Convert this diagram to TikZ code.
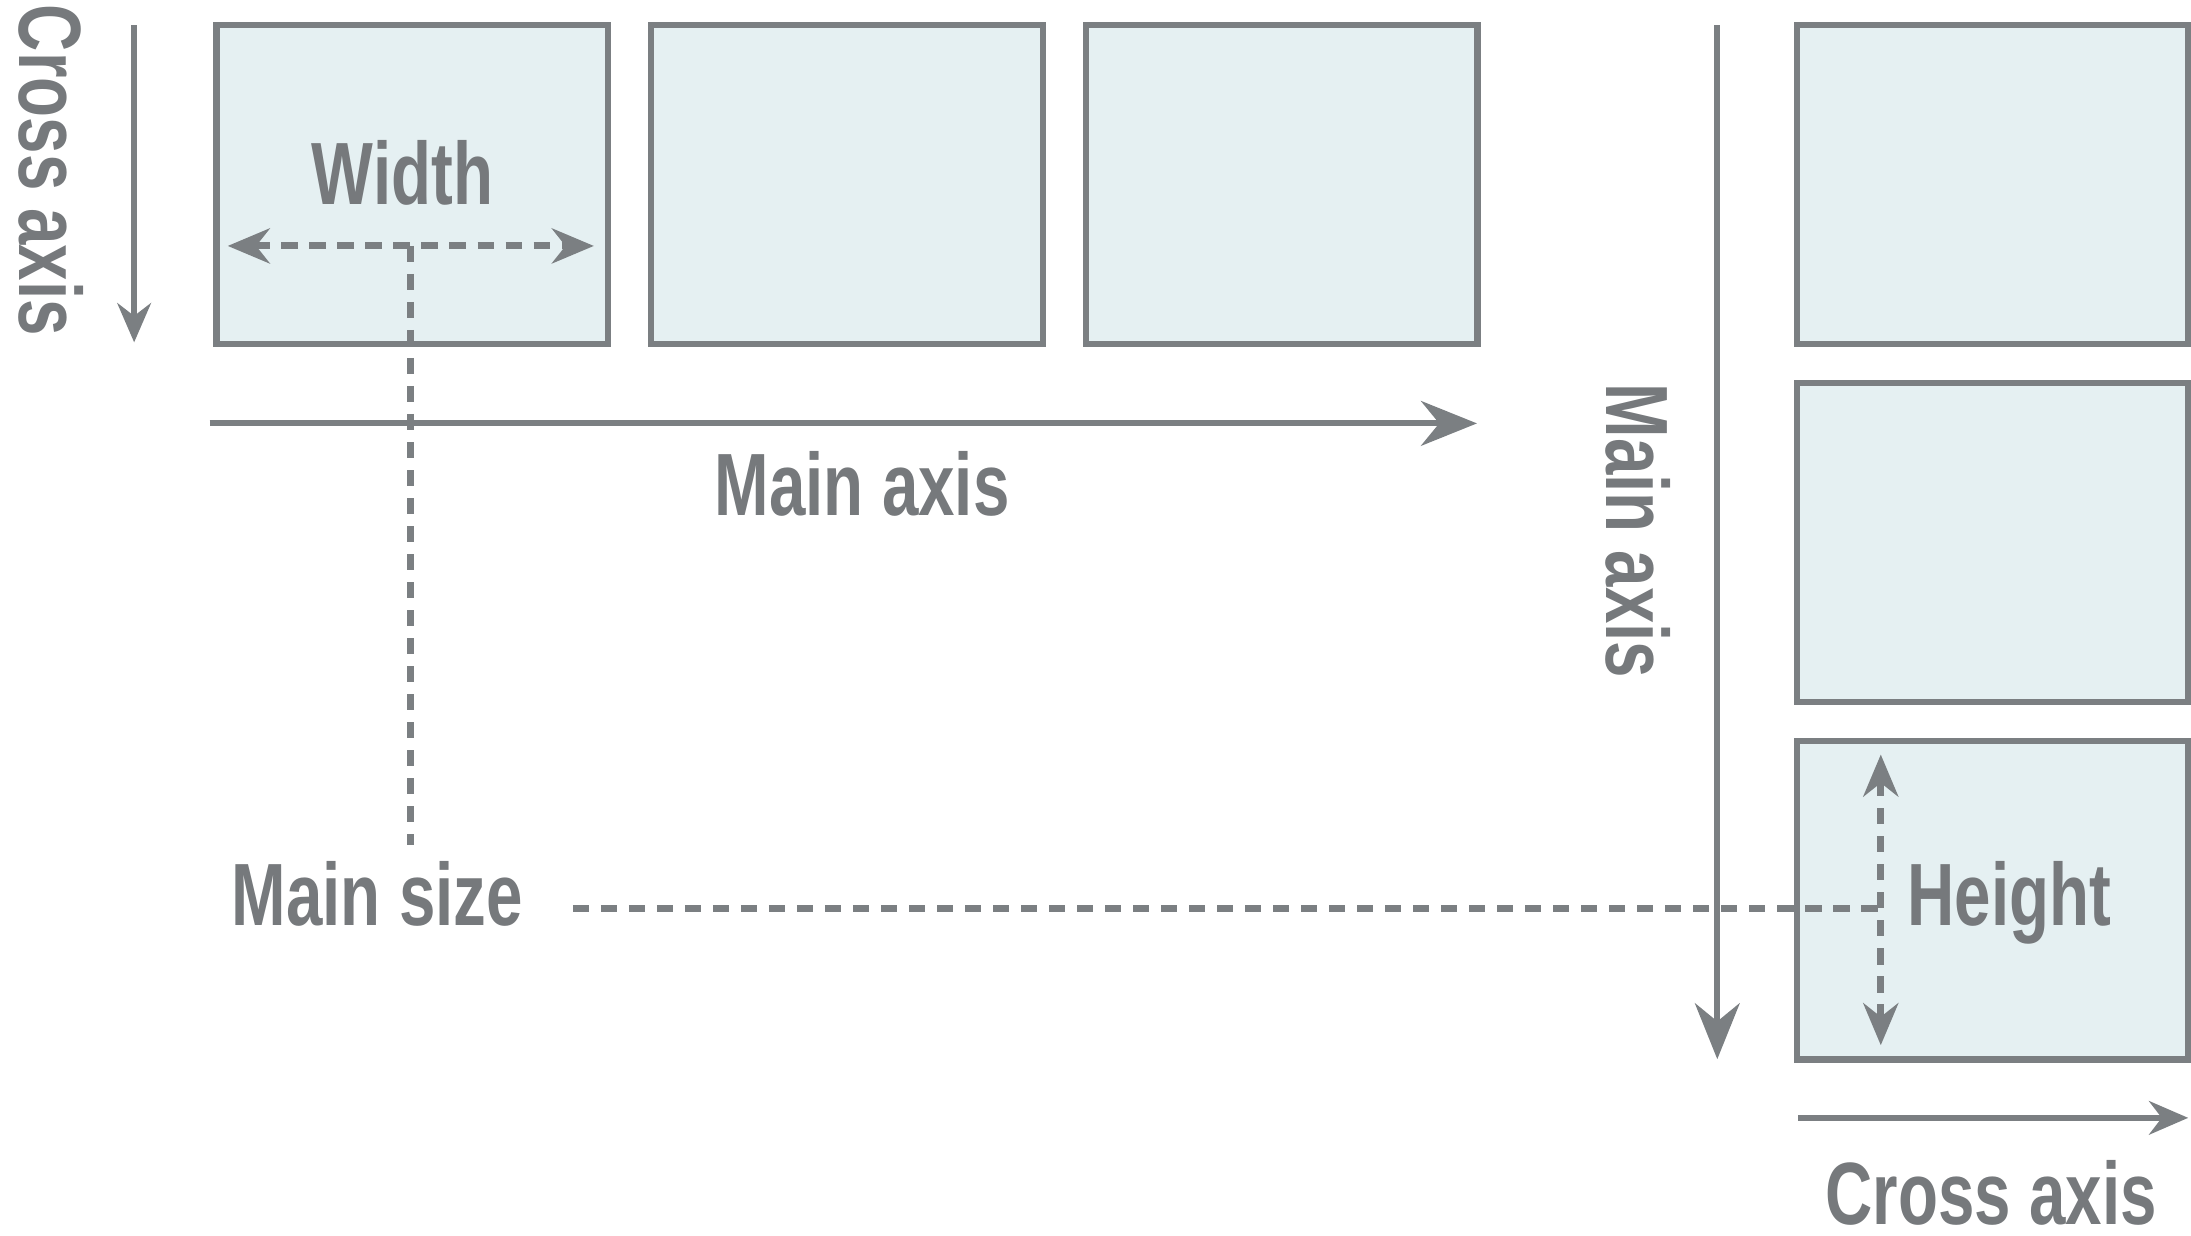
\documentclass[tikz,border=0pt]{standalone}
\usepackage{fontspec}
\setmainfont{Liberation Sans}[FakeStretch=0.74]
\usepackage{tikz}
\usetikzlibrary{arrows.meta, positioning}
\definecolor{linegray}{HTML}{7B7F82}
\definecolor{textgray}{HTML}{76797C}
\definecolor{boxfill}{HTML}{E5F0F2}

\begin{document}
\begin{tikzpicture}[
            x = 0.01cm, y = -0.01cm, % pixel units, y pointing down
            > = {Stealth[length=4mm, width=3.2mm]}, % arrow head style
            line width = 1.2pt, % line style
            color = linegray,
            text = textgray,
            font = \fontsize{18}{20}\selectfont\bfseries
        ]

        \tikzstyle{item}=[
            draw = linegray,
            line width = 1.3pt,
            fill = boxfill,
            minimum width = 2.8cm,
            minimum height = 2.28cm,
            inner sep = 0pt,
            outer sep = 0pt
        ]
        \tikzstyle{crossarrow}=[-{Stealth[length=2.8mm, width=2.4mm]}]
        \tikzstyle{measure}=[
            {Stealth[length=3mm, width=2.5mm]}-{Stealth[length=3mm, width=2.5mm]},
            dash pattern = on 3.3pt off 2.4pt,
            line width = 1.4pt
        ]
        \tikzstyle{guide}=[
            dash pattern = on 3.3pt off 2.4pt,
            line width = 1.4pt
        ]

        \useasboundingbox (0,0) rectangle (1568,884);

        % row of items
        \node[item] (row1) at (295,132) {};
        \node[item] (row2) [right=0.31cm of row1] {};
        \node[item] (row3) [right=0.31cm of row2] {};

        % column of items
        \node[item] (col1) at (1426,132) {};
        \node[item] (col2) [below=0.28cm of col1] {};
        \node[item] (col3) [below=0.28cm of col2] {};

        % labels
        \node[anchor=base] (width) at (288,146) {Width};
        \node[anchor=base] (mainlbl) at (617,369) {Main axis};
        \node[anchor=base] (mainsize) at (270,662) {Main size};
        \node[anchor=base] (height) at (1438,662) {Height};
        \node[anchor=base] (crosslbl) at (1425,876) {Cross axis};
        \node[anchor=base, rotate=-90] (crossside) at (14,122) {Cross axis};
        \node[anchor=base, rotate=-90] (mainside) at (1150,380) {Main axis};

        \coordinate (ctop) at (96,18);
        \coordinate (cbot) at (96,245);
        \coordinate (mleft) at (150,303);
        \coordinate (mright) at (1057,303);
        \coordinate (vtop) at (1229,18);
        \coordinate (vbot) at (1229,758);
        \coordinate (bleft) at (1287,800);
        \coordinate (bright) at (1566,800);
        \coordinate (wl) at (163,176);
        \coordinate (wr) at (425,176);
        \coordinate (wm) at (294,176);
        \coordinate (wend) at (294,605);
        \coordinate (hstart) at (410,650);
        \coordinate (htop) at (1346,540);
        \coordinate (hbot) at (1346,748);
        \coordinate (hmid) at (1346,650);

        % axes
        \draw[crossarrow] (ctop) -- (cbot);
        \draw[->] (mleft) -- (mright);
        \draw[->] (vtop) -- (vbot);
        \draw[crossarrow] (bleft) -- (bright);

        % sizes
        \draw[measure] (wl) -- (wr);
        \draw[guide] (wm) -- (wend);
        \draw[measure] (htop) -- (hbot);
        \draw[guide] (hstart) -- (hmid);

  \end{tikzpicture}
\end{document}
